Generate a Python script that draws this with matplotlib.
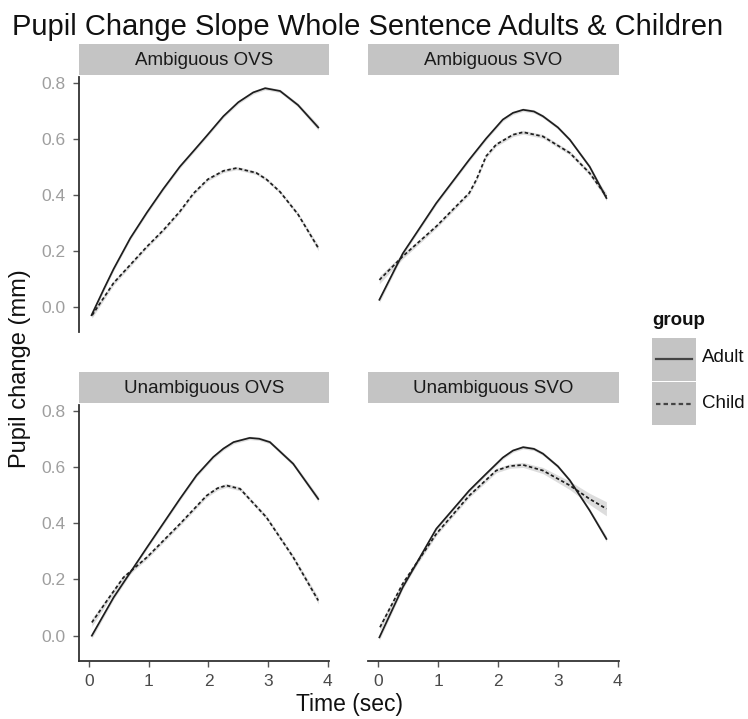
import matplotlib
matplotlib.use("Agg")
import matplotlib.pyplot as plt
from matplotlib.patches import Rectangle
from matplotlib.lines import Line2D

plt.rcParams['font.family'] = ['Liberation Sans', 'DejaVu Sans']

# ---------------- data ----------------
panels = ["Ambiguous OVS", "Ambiguous SVO", "Unambiguous OVS", "Unambiguous SVO"]
groups = ["Adult", "Child"]

amb_ovs_adult_x = [0.04, 0.25, 0.41, 0.69, 0.97, 1.24, 1.52, 1.75, 1.97, 2.25, 2.5, 2.75, 2.95, 3.2, 3.5, 3.84]
amb_ovs_adult_y = [-0.03, 0.065, 0.135, 0.245, 0.337, 0.42, 0.50, 0.556, 0.61, 0.68, 0.73, 0.765, 0.78, 0.77, 0.72, 0.64]
amb_ovs_adult_se = [0.010, 0.008, 0.007, 0.006, 0.006, 0.006, 0.006, 0.006, 0.006, 0.006, 0.006, 0.006, 0.006, 0.006, 0.007, 0.010]
amb_ovs_child_x = [0.05, 0.41, 0.97, 1.25, 1.52, 1.75, 1.99, 2.25, 2.47, 2.8, 2.97, 3.2, 3.5, 3.84]
amb_ovs_child_y = [-0.03, 0.085, 0.215, 0.275, 0.34, 0.405, 0.455, 0.485, 0.495, 0.478, 0.455, 0.41, 0.33, 0.21]
amb_ovs_child_se = [0.010, 0.008, 0.006, 0.006, 0.006, 0.006, 0.006, 0.006, 0.006, 0.006, 0.006, 0.006, 0.007, 0.010]

amb_svo_adult_x = [0.02, 0.41, 0.97, 1.52, 1.80, 2.08, 2.25, 2.42, 2.6, 2.75, 3.0, 3.2, 3.53, 3.81]
amb_svo_adult_y = [0.025, 0.19, 0.37, 0.525, 0.60, 0.668, 0.692, 0.703, 0.697, 0.68, 0.64, 0.596, 0.50, 0.388]
amb_svo_adult_se = [0.010, 0.007, 0.006, 0.006, 0.006, 0.006, 0.006, 0.006, 0.006, 0.006, 0.006, 0.006, 0.007, 0.010]
amb_svo_child_x = [0.02, 0.41, 0.97, 1.52, 1.64, 1.8, 1.97, 2.25, 2.42, 2.75, 3.2, 3.53, 3.81]
amb_svo_child_y = [0.096, 0.18, 0.287, 0.406, 0.454, 0.537, 0.579, 0.614, 0.623, 0.608, 0.549, 0.477, 0.394]
amb_svo_child_se = [0.014, 0.009, 0.007, 0.007, 0.007, 0.007, 0.007, 0.007, 0.007, 0.007, 0.007, 0.008, 0.012]

unamb_ovs_adult_x = [0.045, 0.41, 0.97, 1.52, 1.80, 2.08, 2.25, 2.42, 2.69, 2.85, 3.03, 3.42, 3.84]
unamb_ovs_adult_y = [0.0, 0.136, 0.314, 0.486, 0.57, 0.635, 0.665, 0.688, 0.703, 0.70, 0.688, 0.611, 0.486]
unamb_ovs_adult_se = [0.010, 0.007, 0.006, 0.006, 0.006, 0.006, 0.006, 0.006, 0.006, 0.006, 0.006, 0.007, 0.010]
unamb_ovs_child_x = [0.045, 0.3, 0.575, 0.97, 1.52, 1.97, 2.15, 2.30, 2.53, 2.97, 3.42, 3.84]
unamb_ovs_child_y = [0.047, 0.125, 0.207, 0.279, 0.397, 0.498, 0.524, 0.534, 0.522, 0.421, 0.279, 0.125]
unamb_ovs_child_se = [0.014, 0.010, 0.008, 0.007, 0.007, 0.007, 0.007, 0.007, 0.007, 0.007, 0.008, 0.012]

unamb_svo_adult_x = [0.02, 0.41, 0.97, 1.52, 1.80, 2.08, 2.25, 2.42, 2.6, 2.75, 3.0, 3.2, 3.53, 3.81]
unamb_svo_adult_y = [-0.006, 0.172, 0.38, 0.516, 0.575, 0.633, 0.658, 0.67, 0.664, 0.647, 0.602, 0.552, 0.445, 0.344]
unamb_svo_adult_se = [0.010, 0.007, 0.006, 0.006, 0.006, 0.006, 0.006, 0.006, 0.006, 0.006, 0.006, 0.006, 0.007, 0.010]
unamb_svo_child_x = [0.03, 0.41, 0.97, 1.52, 1.97, 2.2, 2.42, 2.75, 3.2, 3.53, 3.81]
unamb_svo_child_y = [0.03, 0.185, 0.362, 0.498, 0.587, 0.603, 0.607, 0.587, 0.534, 0.486, 0.451]
unamb_svo_child_se = [0.014, 0.009, 0.007, 0.007, 0.008, 0.008, 0.009, 0.011, 0.015, 0.020, 0.025]

series = {
    "Ambiguous OVS": [(amb_ovs_adult_x, amb_ovs_adult_y, amb_ovs_adult_se),
                      (amb_ovs_child_x, amb_ovs_child_y, amb_ovs_child_se)],
    "Ambiguous SVO": [(amb_svo_adult_x, amb_svo_adult_y, amb_svo_adult_se),
                      (amb_svo_child_x, amb_svo_child_y, amb_svo_child_se)],
    "Unambiguous OVS": [(unamb_ovs_adult_x, unamb_ovs_adult_y, unamb_ovs_adult_se),
                        (unamb_ovs_child_x, unamb_ovs_child_y, unamb_ovs_child_se)],
    "Unambiguous SVO": [(unamb_svo_adult_x, unamb_svo_adult_y, unamb_svo_adult_se),
                        (unamb_svo_child_x, unamb_svo_child_y, unamb_svo_child_se)],
}

x_ticks = [0, 1, 2, 3, 4]
y_ticks = [0.0, 0.2, 0.4, 0.6, 0.8]
y_ticklabels = ["0.0", "0.2", "0.4", "0.6", "0.8"]

# ---------------- layout ----------------
W, H = 748, 719
fig = plt.figure(figsize=(W / 100, H / 100), dpi=100)
fig.patch.set_facecolor("white")

def rect(x0, y0, x1, y1):
    return [x0 / W, 1 - y1 / H, (x1 - x0) / W, (y1 - y0) / H]

cols = [(79, 329), (368, 619)]
rows = [((44, 75), (77, 332)), ((372, 403), (405, 661))]

STRIP = "#C4C4C4"
LINE = "#1E1E1E"
styles = [dict(linestyle="-"), dict(linestyle=(0, (2.0, 1.4)))]

for i, name in enumerate(panels):
    r, c = divmod(i, 2)
    (sy0, sy1), (py0, py1) = rows[r]
    x0, x1 = cols[c]
    # strip
    sax = fig.add_axes(rect(x0, sy0, x1, sy1))
    sax.set_facecolor(STRIP)
    sax.set_xticks([]); sax.set_yticks([])
    for s in sax.spines.values():
        s.set_visible(False)
    sax.text(0.5, 0.47, name, ha="center", va="center", fontsize=13.5, color="#1A1A1A",
             transform=sax.transAxes)
    # panel
    ax = fig.add_axes(rect(x0, py0, x1, py1))
    ax.set_xlim(-0.17, 4.02)
    ax.set_ylim(-0.09, 0.82)
    for (xs, ys, se), st in zip(series[name], styles):
        lo = [y - e for y, e in zip(ys, se)]
        hi = [y + e for y, e in zip(ys, se)]
        ax.fill_between(xs, lo, hi, color="#A0A0A0", alpha=0.35, linewidth=0)
        ax.plot(xs, ys, color=LINE, lw=1.25, solid_joinstyle="round", **st)
    for s in ax.spines.values():
        s.set_visible(False)
    ax.tick_params(colors="#555555", length=4.3, width=1.0)
    if c == 0:
        ax.spines["left"].set_visible(True)
        ax.spines["left"].set_color("#333333")
        ax.spines["left"].set_linewidth(1.3)
        ax.set_yticks(y_ticks)
        ax.set_yticklabels(y_ticklabels)
        ax.tick_params(axis="y", labelsize=12.5, labelcolor="#9E9E9E", pad=5.5)
    else:
        ax.set_yticks([])
    if r == 1:
        ax.spines["bottom"].set_visible(True)
        ax.spines["bottom"].set_color("#333333")
        ax.spines["bottom"].set_linewidth(1.3)
        ax.set_xticks(x_ticks)
        ax.tick_params(axis="x", labelsize=12.5, labelcolor="#4A4A4A", pad=5.0)
    else:
        ax.set_xticks([])

# titles / labels
fig.text(12 / W, 1 - 35 / H, "Pupil Change Slope Whole Sentence Adults & Children",
         ha="left", va="baseline", fontsize=21, color="#111111")
fig.text(20 / W, 1 - 369 / H, "Pupil change (mm)", rotation=90, ha="center", va="center",
         fontsize=17, color="#111111")
fig.text(349 / W, 1 - 705 / H, "Time (sec)", ha="center", va="center",
         fontsize=16.5, color="#111111")

# legend (manual, ggplot-style keys)
fig.text(652 / W, 1 - 325 / H, "group", ha="left", va="baseline", fontsize=13.5,
         fontweight="bold", color="#111111")
lax = fig.add_axes(rect(652, 337, 696, 426))
lax.set_xlim(0, 1); lax.set_ylim(0, 2)
lax.axis("off")
for k, (g, st) in enumerate(zip(groups, styles)):
    yb = 1 - k
    lax.add_patch(Rectangle((0, yb + 0.02), 1, 0.96, facecolor=STRIP, edgecolor="none"))
    lax.add_line(Line2D([0.1, 0.92], [yb + 0.5, yb + 0.5], color="#444444", lw=1.6, **st))
    fig.text(702 / W, 1 - (358 + 45 * k) / H, g, ha="left", va="center", fontsize=13.5,
             color="#111111")

fig.savefig("out.png", dpi=100, facecolor="white")
